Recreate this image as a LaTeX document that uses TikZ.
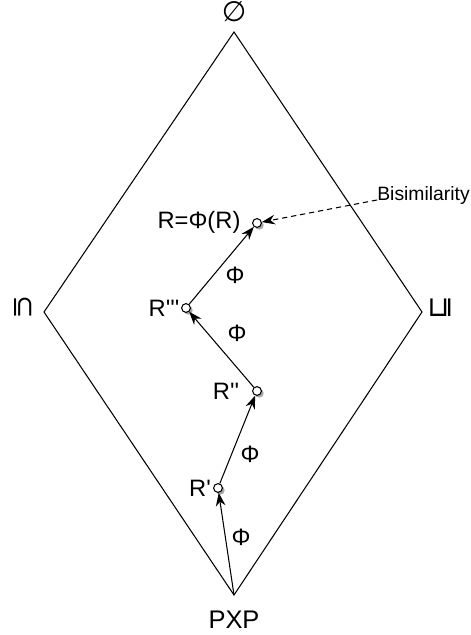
\documentclass[tikz,border=0pt]{standalone}
\usepackage{fontspec}
\setmainfont{Liberation Sans}
\newfontfamily\symfont{DejaVu Sans}
\usetikzlibrary{arrows.meta,shadows}

\newcommand{\pr}{\textquotesingle}

\begin{document}
\begin{tikzpicture}[x=0.02cm,y=-0.02cm,
  pnt/.style={circle,draw,fill=white,line width=0.6pt,inner sep=0pt,minimum size=5pt,
    drop shadow={shadow xshift=1.3pt,shadow yshift=-1.3pt,opacity=0.35,fill=black}},
  lbl/.style={font=\fontsize{13.5}{15}\selectfont,inner sep=0pt},
  sym/.style={font=\symfont\fontsize{16}{18}\selectfont,inner sep=0pt},
  step arrow/.style={-{Stealth[length=7.5pt,width=5.5pt]},line width=0.6pt},
  note arrow/.style={-{Stealth[length=7.5pt,width=5.5pt]},line width=0.6pt,dash pattern=on 3pt off 2.2pt}]

\useasboundingbox (0,0) rectangle (470,635);

% Verband (Raute)
\coordinate (top) at (234,32);
\coordinate (left) at (44,312);
\coordinate (right) at (422,312);
\coordinate (bot) at (234,595);
\draw[line width=0.6pt] (top) -- (right) -- (bot) -- (left) -- cycle;

% Beschriftung der Ecken
\node[sym] (empty) at (234,12) {∅};
\node[sym,rotate=-90] (sub) at (23,307) {⊆};
\node[sym,rotate=90] (sqsub) at (441,308) {⊑};
\node[lbl,font=\fontsize{14.5}{16}\selectfont] (pxp) at (234,620) {PXP};

% Punkte der Iteration
\node[pnt] (r1) at (218,488) {};
\node[pnt] (r2) at (257,391) {};
\node[pnt] (r3) at (186,308) {};
\node[pnt] (rf) at (257,223) {};

\node[lbl] (r1l) at (200,488) {R\pr};
\node[lbl] (r2l) at (226,391) {R\pr\pr};
\node[lbl] (r3l) at (164,308) {R\pr\pr\pr};
\node[lbl] (rfl) at (199,222) {R=Φ(R)};

% Schritte mit Phi
\draw[step arrow] (bot) -- (r1);
\draw[step arrow] (r1) -- (r2);
\draw[step arrow] (r2) -- (r3);
\draw[step arrow] (r3) -- (rf);

\node[lbl] (phi1) at (241,537) {Φ};
\node[lbl] (phi2) at (250,454) {Φ};
\node[lbl] (phi3) at (237,333) {Φ};
\node[lbl] (phi4) at (235,275) {Φ};

% Fixpunkt
\node[font=\fontsize{11}{12}\selectfont,inner sep=0pt,anchor=base west] (bisim) at (377,200) {Bisimilarity};
\draw[note arrow] (bisim.base west) -- (rf);

\end{tikzpicture}
\end{document}
